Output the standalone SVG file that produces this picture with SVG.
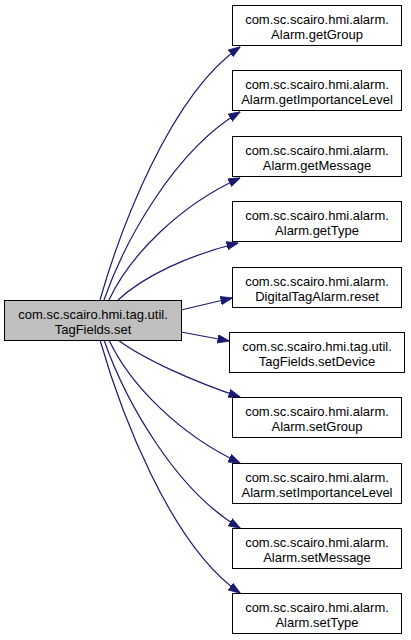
<svg xmlns="http://www.w3.org/2000/svg" width="411" height="640" viewBox="0 0 411 640">
<style>
.box{fill:#ffffff;stroke:#000000;stroke-width:1}
.src{fill:#bfbfbf;stroke:#000000;stroke-width:1}
text{font-family:"Liberation Sans",Arial,sans-serif;font-size:13px;text-anchor:middle;fill:#000000}
.e{fill:none;stroke:#191970;stroke-width:1.2}
</style>
<defs>
<marker id="ah" viewBox="0 0 12 10" refX="11.5" refY="5" markerWidth="12" markerHeight="10" markerUnits="userSpaceOnUse" orient="auto">
<path d="M0,0.8 L12,5 L0,9.2 z" fill="#191970" stroke="#191970" stroke-width="0.8"/>
</marker>
</defs>
<rect width="411" height="640" fill="#ffffff"/>
<g id="edges">
<path class="e" marker-end="url(#ah)" d="M100,300 C120,230 170,95 240,47"/>
<path class="e" marker-end="url(#ah)" d="M104,300 C125,240 175,150 240,112"/>
<path class="e" marker-end="url(#ah)" d="M109,300 C130,255 180,205 240,178"/>
<path class="e" marker-end="url(#ah)" d="M118,300 C145,275 190,255 238,243"/>
<path class="e" marker-end="url(#ah)" d="M181,310 C198,306 215,302 232,298"/>
<path class="e" marker-end="url(#ah)" d="M181,332 C197,335 213,338 229,341"/>
<path class="e" marker-end="url(#ah)" d="M118,340 C145,360 195,382 240,397"/>
<path class="e" marker-end="url(#ah)" d="M109,340 C130,385 180,435 240,463"/>
<path class="e" marker-end="url(#ah)" d="M104,340 C125,400 175,490 240,528"/>
<path class="e" marker-end="url(#ah)" d="M100,340 C120,410 170,545 240,593"/>
</g>
<g id="n0"><rect class="src" x="4.5" y="300.5" width="177" height="40"/><text x="93" y="319">com.sc.scairo.hmi.tag.util.</text><text x="93" y="334">TagFields.set</text></g>
<g id="n1"><rect class="box" x="232.5" y="5.5" width="169" height="40"/><text x="317" y="24">com.sc.scairo.hmi.alarm.</text><text x="317" y="39">Alarm.getGroup</text></g>
<g id="n2"><rect class="box" x="232.5" y="70.5" width="169" height="40"/><text x="317" y="89">com.sc.scairo.hmi.alarm.</text><text x="317" y="104">Alarm.getImportanceLevel</text></g>
<g id="n3"><rect class="box" x="232.5" y="136.5" width="169" height="40"/><text x="317" y="155">com.sc.scairo.hmi.alarm.</text><text x="317" y="170">Alarm.getMessage</text></g>
<g id="n4"><rect class="box" x="232.5" y="201.5" width="169" height="40"/><text x="317" y="220">com.sc.scairo.hmi.alarm.</text><text x="317" y="235">Alarm.getType</text></g>
<g id="n5"><rect class="box" x="232.5" y="267.5" width="169" height="40"/><text x="317" y="286">com.sc.scairo.hmi.alarm.</text><text x="317" y="301">DigitalTagAlarm.reset</text></g>
<g id="n6"><rect class="box" x="229.5" y="332.5" width="175" height="40"/><text x="317" y="351">com.sc.scairo.hmi.tag.util.</text><text x="317" y="366">TagFields.setDevice</text></g>
<g id="n7"><rect class="box" x="232.5" y="397.5" width="169" height="40"/><text x="317" y="416">com.sc.scairo.hmi.alarm.</text><text x="317" y="431">Alarm.setGroup</text></g>
<g id="n8"><rect class="box" x="232.5" y="463.5" width="169" height="40"/><text x="317" y="482">com.sc.scairo.hmi.alarm.</text><text x="317" y="497">Alarm.setImportanceLevel</text></g>
<g id="n9"><rect class="box" x="232.5" y="528.5" width="169" height="40"/><text x="317" y="547">com.sc.scairo.hmi.alarm.</text><text x="317" y="562">Alarm.setMessage</text></g>
<g id="n10"><rect class="box" x="232.5" y="593.5" width="169" height="40"/><text x="317" y="612">com.sc.scairo.hmi.alarm.</text><text x="317" y="627">Alarm.setType</text></g>
</svg>
